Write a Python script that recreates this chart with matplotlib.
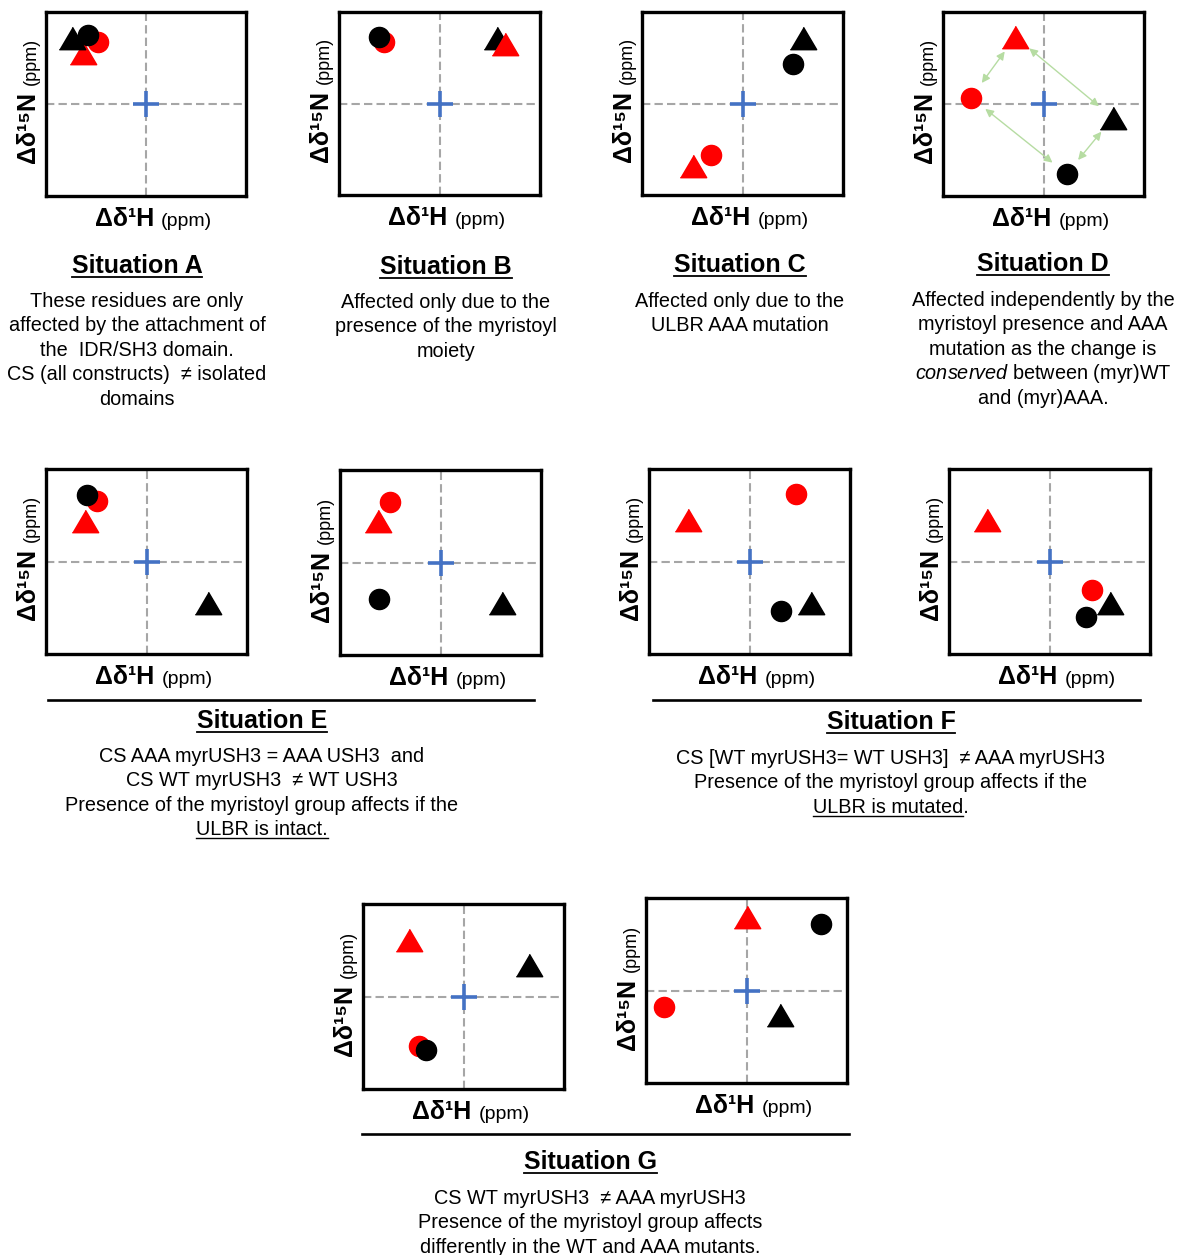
import matplotlib.pyplot as plt
from matplotlib.lines import Line2D
from matplotlib.transforms import Affine2D

plt.rcParams['font.family'] = ['Liberation Sans', 'DejaVu Sans']
plt.rcParams['mathtext.fontset'] = 'custom'
plt.rcParams['mathtext.rm'] = 'Liberation Sans'
plt.rcParams['mathtext.it'] = 'Liberation Sans:italic'
plt.rcParams['mathtext.bf'] = 'Liberation Sans:bold'

# marker positions, relative to the reference cross at (0, 0); box runs -1..1
panels = ['A', 'B', 'C', 'D', 'E1', 'E2', 'F1', 'F2', 'G1', 'G2']
red_tri_x = [-0.63, 0.65, -0.49, -0.28, -0.61, -0.62, -0.61, -0.62, -0.54, 0.00]
red_tri_y = [0.55, 0.65, -0.68, 0.73, 0.44, 0.45, 0.45, 0.45, 0.61, 0.79]
red_dot_x = [-0.48, -0.55, -0.31, -0.72, -0.49, -0.50, 0.46, 0.42, -0.44, -0.82]
red_dot_y = [0.67, 0.67, -0.56, 0.07, 0.65, 0.65, 0.73, -0.31, -0.53, -0.18]
blk_tri_x = [-0.74, 0.57, 0.60, 0.69, 0.61, 0.61, 0.61, 0.60, 0.65, 0.33]
blk_tri_y = [0.72, 0.72, 0.72, -0.15, -0.45, -0.44, -0.45, -0.45, 0.34, -0.27]
blk_dot_x = [-0.58, -0.60, 0.50, 0.23, -0.59, -0.61, 0.31, 0.36, -0.37, 0.74]
blk_dot_y = [0.75, 0.73, 0.43, -0.76, 0.72, -0.39, -0.53, -0.60, -0.58, 0.72]

# panel D: conserved shifts linked by arrows
d_links = [('red_tri', 'red_dot'), ('red_tri', 'blk_tri'),
           ('red_dot', 'blk_dot'), ('blk_tri', 'blk_dot')]

titles = ['Situation A', 'Situation B', 'Situation C', 'Situation D',
          'Situation E', 'Situation F', 'Situation G']
body_A = ['These residues are only', 'affected by the attachment of',
          'the  IDR/SH3 domain.', 'CS (all constructs)  \u2260 isolated', 'domains']
body_B = ['Affected only due to the', 'presence of the myristoyl', 'moiety']
body_C = ['Affected only due to the', 'ULBR AAA mutation']
body_D = ['Affected independently by the', 'myristoyl presence and AAA',
          'mutation as the change is', r'$\mathit{conserved}$ between (myr)WT',
          'and (myr)AAA.']
body_E = ['CS AAA myrUSH3 = AAA USH3  and', 'CS WT myrUSH3  \u2260 WT USH3',
          'Presence of the myristoyl group affects if the', 'ULBR is intact.']
body_F = ['CS [WT myrUSH3= WT USH3]  \u2260 AAA myrUSH3',
          'Presence of the myristoyl group affects if the', 'ULBR is mutated.']
body_G = ['CS WT myrUSH3  \u2260 AAA myrUSH3', 'Presence of the myristoyl group affects',
          'differently in the WT and AAA mutants.']

W, H = 1180, 1255
fig = plt.figure(figsize=(W / 100, H / 100), dpi=100)
pix = Affine2D().scale(1 / W, -1 / H).translate(0, 1) + fig.transFigure

# box edges in pixels (left, top, right, bottom)
boxes = {'A': (46, 12, 246, 196), 'B': (339, 12, 540, 195),
         'C': (642, 12, 843, 195), 'D': (943, 12, 1144, 196),
         'E1': (46, 469, 247, 654), 'E2': (340, 470, 541, 655),
         'F1': (649, 469, 850, 654), 'F2': (949, 469, 1150, 654),
         'G1': (363, 904, 564, 1089), 'G2': (646, 898, 847, 1083)}

tri = [(-1, -0.85), (1, -0.85), (0, 0.85)]
RED = '#ff0000'
style = {'red_tri': dict(marker=tri, ms=19, color=RED),
         'red_dot': dict(marker='o', ms=14.5, color=RED),
         'blk_tri': dict(marker=tri, ms=19, color='black'),
         'blk_dot': dict(marker='o', ms=14.5, color='black')}
order_default = ['red_dot', 'red_tri', 'blk_dot', 'blk_tri']
order_B = ['red_dot', 'blk_dot', 'blk_tri', 'red_tri']


def axis_labels(l, t, r, b):
    cx = (l + r) / 2
    cy = (t + b) / 2
    fig.text(cx + 8, b + 30, '\u0394\u03b4\u00b9H', transform=pix, ha='right',
             va='baseline', fontsize=18, fontweight='bold')
    fig.text(cx + 15, b + 30, '(ppm)', transform=pix, ha='left', va='baseline',
             fontsize=14)
    fig.text(l - 11, cy + 59, '\u0394\u03b4\u00b9\u2075N', transform=pix, rotation=90,
             rotation_mode='anchor', ha='left', va='baseline', fontsize=18,
             fontweight='bold')
    fig.text(l - 10, cy - 19, '(ppm)', transform=pix, rotation=90,
             rotation_mode='anchor', ha='left', va='baseline', fontsize=13)


for i, p in enumerate(panels):
    l, t, r, b = boxes[p]
    ax = fig.add_axes([l / W, 1 - b / H, (r - l) / W, (b - t) / H])
    ax.set_xlim(-1, 1)
    ax.set_ylim(-1, 1)
    ax.set_xticks([])
    ax.set_yticks([])
    for s in ax.spines.values():
        s.set_linewidth(2.4)
        s.set_zorder(10)
    ax.axhline(0, color='#a6a6a6', lw=1.5, ls=(0, (4, 2)), zorder=1)
    ax.axvline(0, color='#a6a6a6', lw=1.5, ls=(0, (4, 2)), zorder=1)
    ax.plot(0, 0, marker='+', ms=19, mew=2.6, color='#4472c4', zorder=2)

    pts = {'red_tri': (red_tri_x[i], red_tri_y[i]),
           'red_dot': (red_dot_x[i], red_dot_y[i]),
           'blk_tri': (blk_tri_x[i], blk_tri_y[i]),
           'blk_dot': (blk_dot_x[i], blk_dot_y[i])}
    if p == 'D':
        for a, c in d_links:
            ax.annotate('', xy=pts[c], xytext=pts[a],
                        arrowprops=dict(arrowstyle='<|-|>', color='#b6dca2', lw=1,
                                        shrinkA=13, shrinkB=13, mutation_scale=12),
                        zorder=3)
    order = order_B if p == 'B' else order_default
    for z, key in enumerate(order):
        ax.plot(*pts[key], ls='none', zorder=4 + z, **style[key])
    axis_labels(l, t, r, b)

# separators under the paired panels
for x0, x1, y in [(48, 534, 700), (653, 1140, 700), (362, 849, 1134)]:
    fig.add_artist(Line2D([x0, x1], [y, y], transform=pix, color='black', lw=1.9))

# titles: (centre x, baseline y)
title_pos = [(137, 273), (446, 274), (740, 272), (1043, 271),
             (262, 728), (891, 729), (590, 1169)]
bodies = [body_A, body_B, body_C, body_D, body_E, body_F, body_G]
body_pos = [(137, 307), (446, 308), (740, 307), (1043, 306),
            (262, 762), (891, 764), (590, 1204)]
LS = 24.4

title_texts = []
for name, (x, y) in zip(titles, title_pos):
    title_texts.append(fig.text(x, y, name, transform=pix, ha='center', va='baseline',
                                fontsize=18, fontweight='bold'))

underline_texts = []
for lines, (x, y) in zip(bodies, body_pos):
    for k, line in enumerate(lines):
        t = fig.text(x, y + k * LS, line, transform=pix, ha='center', va='baseline',
                     fontsize=14.3)
        if line.startswith('ULBR is'):
            underline_texts.append((t, y + k * LS))

fig.canvas.draw()
rend = fig.canvas.get_renderer()
for t, (x, y) in zip(title_texts, title_pos):
    bb = t.get_window_extent(rend)
    fig.add_artist(Line2D([bb.x0, bb.x1], [y + 4, y + 4], transform=pix,
                          color='black', lw=1.3))
dot = fig.text(0, 0, '.', fontsize=14.3)
dot_w = dot.get_window_extent(rend).width
dot.remove()
for t, y in underline_texts:
    bb = t.get_window_extent(rend)
    x1 = bb.x1 if t.get_text().endswith('intact.') else bb.x1 - dot_w
    fig.add_artist(Line2D([bb.x0, x1], [y + 3, y + 3], transform=pix,
                          color='black', lw=1.0))

fig.savefig('out.png', dpi=100, facecolor='white')
